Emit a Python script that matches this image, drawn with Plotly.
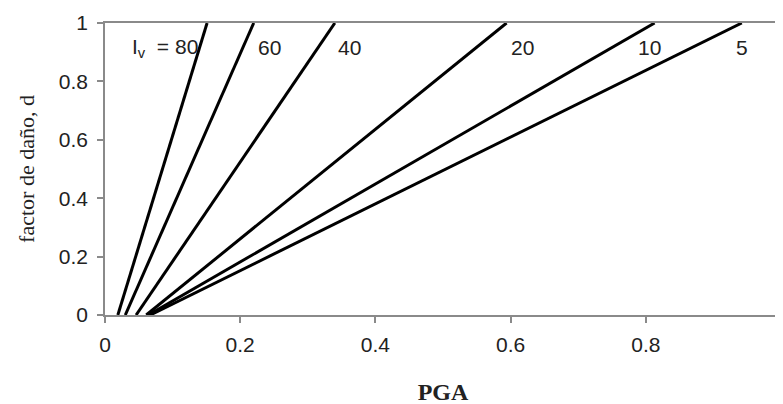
import plotly.graph_objects as go

iv_labels = ["80", "60", "40", "20", "10", "5"]
pga_at_d0 = [0.019, 0.030, 0.046, 0.061, 0.064, 0.067]
pga_at_d1 = [0.151, 0.220, 0.340, 0.594, 0.813, 0.942]
d_values = [0, 1]

label_x = [0.037, 0.244, 0.362, 0.618, 0.805, 0.942]
label_y = 0.915
label_text = ["I<sub>v</sub>&nbsp;&nbsp;=&nbsp;80", "60", "40", "20", "10", "5"]

tick_vals = [0, 0.2, 0.4, 0.6, 0.8, 1]
tick_text = ["0", "0.2", "0.4", "0.6", "0.8", "1"]

fig = go.Figure()
for lab, x0, x1 in zip(iv_labels, pga_at_d0, pga_at_d1):
    fig.add_trace(go.Scatter(x=[x0, x1], y=d_values, mode="lines",
                             line=dict(color="black", width=3),
                             name="Iv=" + lab, showlegend=False))

for i, (tx, tt) in enumerate(zip(label_x, label_text)):
    fig.add_annotation(x=tx, y=label_y, text=tt, showarrow=False,
                       xanchor="left" if i == 0 else "center",
                       font=dict(family="Liberation Sans, Arial", size=21, color="#222"))

axis_common = dict(showgrid=False, zeroline=False, showline=True,
                   linecolor="#8a8a8a", linewidth=1.5, ticks="outside",
                   tickcolor="#8a8a8a", ticklen=6, tickwidth=1.5, mirror=True,
                   tickvals=tick_vals, ticktext=tick_text, range=[0, 1],
                   automargin=False,
                   tickfont=dict(family="Liberation Sans, Arial", size=21, color="#222"))

fig.update_xaxes(title=dict(text="<b>PGA</b>",
                            font=dict(family="Liberation Serif, Times New Roman", size=24, color="#222"),
                            standoff=28),
                 ticklabelstandoff=4,
                 **axis_common)
fig.update_yaxes(title=dict(text="factor de daño, d",
                            font=dict(family="Liberation Serif, Times New Roman", size=22, color="#222"),
                            standoff=18),
                 ticklabelstandoff=5,
                 **axis_common)

fig.update_layout(width=783, height=404, margin=dict(l=97, r=10, t=15, b=97),
                  plot_bgcolor="white", paper_bgcolor="white", showlegend=False)

fig.write_html("out.html")
